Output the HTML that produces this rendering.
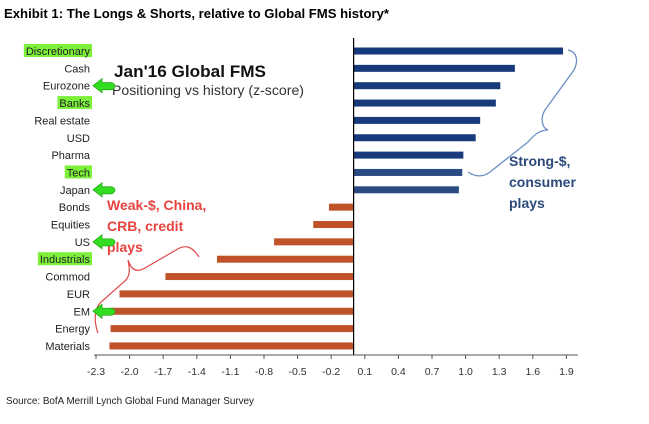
<!DOCTYPE html>
<html><head><meta charset="utf-8"><style>
body{margin:0;background:#fff;width:649px;height:424px;overflow:hidden;font-family:"Liberation Sans",sans-serif}
svg{display:block}
</style></head><body>
<svg width="649" height="424">
<text x="4" y="18" font-size="12.5" font-weight="bold" fill="#000" textLength="385" lengthAdjust="spacingAndGlyphs">Exhibit 1: The Longs &amp; Shorts, relative to Global FMS history*</text>
<text x="6" y="404" font-size="10" fill="#222" textLength="248" lengthAdjust="spacingAndGlyphs">Source: BofA Merrill Lynch Global Fund Manager Survey</text>
<g id="hl"></g>
<g id="bars"></g>
<g id="labels"></g>
<g id="axis"></g>
<text x="114" y="77" font-size="17" font-weight="bold" fill="#111" textLength="152" lengthAdjust="spacingAndGlyphs">Jan'16 Global FMS</text>
<text x="112" y="95" font-size="14" fill="#333" textLength="192" lengthAdjust="spacingAndGlyphs">Positioning vs history (z-score)</text>
<path d="M568,50 C578,52 578,62 574,70 L545,110 C540,118 542,128 548,130 C540,130 535,134 528,142 L490,172 C482,178 474,176 468,172" fill="none" stroke="#6b8fc4" stroke-width="1.3"/>
<text font-size="14" font-weight="bold" fill="#2b4a7a"><tspan x="509" y="166">Strong-$,</tspan><tspan x="509" y="187">consumer</tspan><tspan x="509" y="208">plays</tspan></text>
<path d="M199,257 C192,246 185,244 176,250 L145,268 C138,272 132,272 128,260 C130,270 130,275 126,280 L100,303 C94,310 94,322 98,333" fill="none" stroke="#e04848" stroke-width="1.2"/>
<text font-size="14" font-weight="bold" fill="#e8443f"><tspan x="107" y="210">Weak-$, China,</tspan><tspan x="107" y="231">CRB, credit</tspan><tspan x="107" y="252">plays</tspan></text>
<g id="arrows"></g>
</svg>
<script>
const categories=["Discretionary","Cash","Eurozone","Banks","Real estate","USD","Pharma","Tech","Japan","Bonds","Equities","US","Industrials","Commod","EUR","EM","Energy","Materials"];
const values=[1.87,1.44,1.31,1.27,1.13,1.09,0.98,0.97,0.94,-0.22,-0.36,-0.71,-1.22,-1.68,-2.09,-2.17,-2.17,-2.18];
const highlighted=["Discretionary","Banks","Tech","Industrials"];
const arrowed=["Eurozone","Japan","US","EM"];
const tickLabels=["-2.3","-2.0","-1.7","-1.4","-1.1","-0.8","-0.5","-0.2","0.1","0.4","0.7","1.0","1.3","1.6","1.9"];
const NS="http://www.w3.org/2000/svg";
const x=v=>353.6+v*112;
const y=i=>51+i*17.35;
function mk(t,a,p){const e=document.createElementNS(NS,t);for(const k in a)e.setAttribute(k,a[k]);p.appendChild(e);return e;}
const bars=document.getElementById('bars'),labels=document.getElementById('labels'),hl=document.getElementById('hl'),axis=document.getElementById('axis'),arr=document.getElementById('arrows');
categories.forEach((c,i)=>{
  const v=values[i];
  const col=v>=0?(i>=7?"#2a4a82":"#173a7a"):"#c0522a";
  const r=mk('rect',{x:Math.min(x(0),x(v)),y:y(i)-3.5,width:Math.abs(x(v)-x(0)),height:7,fill:col},bars);
  
  
  const t=mk('text',{x:90,y:y(i)+4,"font-size":"11","text-anchor":"end",fill:"#222"},labels);
  t.textContent=c;
  
  
  if(highlighted.includes(c)){
    const w=t.getComputedTextLength();
    const h=mk('rect',{x:88-w,y:y(i)-7,width:w+4,height:13,fill:"#7cf03a"},hl);
    
    
  }
  if(arrowed.includes(c)){
    const yy=y(i);
    const a=mk('path',{d:`M93,${yy} L102,${yy-7} L102,${yy-3} L112,${yy-3} Q118,${yy} 112,${yy+4} L102,${yy+4} L102,${yy+7} Z`,fill:"#33dd22",stroke:"#22aa11","stroke-width":"0.8"},arr);
    
    
  }
});
const z=mk('line',{x1:x(0),y1:38,x2:x(0),y2:355,stroke:"#000","stroke-width":"1.2"},axis);


const base=mk('line',{x1:94,y1:355,x2:578,y2:355,stroke:"#555","stroke-width":"1"},axis);


tickLabels.forEach(s=>{
  const v=parseFloat(s);
  const tk=mk('line',{x1:x(v),y1:355,x2:x(v),y2:359,stroke:"#555"},axis);
  
  
  const t=mk('text',{x:x(v),y:375,"font-size":"10.5","text-anchor":"middle",fill:"#333"},axis);
  t.textContent=s;
  
  
});
</script>
</body></html>
